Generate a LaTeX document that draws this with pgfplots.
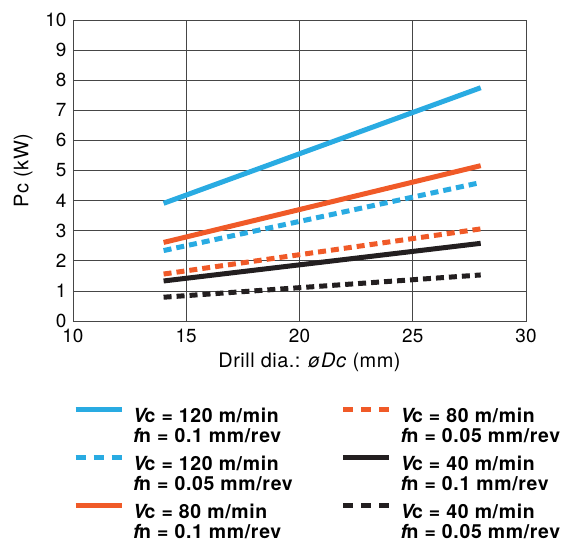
\documentclass[border=0pt]{standalone}
\usepackage{fontspec}
\setmainfont{TeX Gyre Heros}
\usepackage{pgfplots}
\pgfplotsset{compat=1.18}
\definecolor{vcyan}{RGB}{41,171,226}
\definecolor{vred}{RGB}{240,90,40}
\definecolor{vblack}{RGB}{35,31,32}
\definecolor{gridgray}{RGB}{70,70,70}

\newcommand{\ent}[2]{\begin{tabular}[t]{@{}l@{}}{\itshape V}\kern-1.5bp c = #1 m/min\\[-2pt]{\itshape f}\kern-0.5bp n = #2 mm/rev\end{tabular}}

\begin{document}
\fontsize{19}{22}\selectfont
\begin{tikzpicture}
\path[use as bounding box] (-73bp,-226bp) rectangle (500bp,321bp);
\begin{axis}[
  scale only axis, width=453bp, height=301bp,
  xmin=10, xmax=30, ymin=0, ymax=10,
  xtick={10,15,20,25,30}, ytick={0,1,...,10},
  grid=major,
  major grid style={gridgray, line width=0.8bp},
  axis line style={gridgray, line width=0.8bp},
  tick style={draw=none},
  /pgf/number format/assume math mode=true,
  tick label style={font=\fontsize{19}{22}\selectfont},
  xticklabel style={yshift=-2bp},
  xlabel={Drill dia.: \textit{øDc} (mm)},
  ylabel={Pc (kW)},
  label style={font=\fontsize{20}{24}\selectfont\addfontfeatures{LetterSpace=2.5}},
  xlabel style={xshift=10bp, yshift=3bp},
  legend columns=2,
  legend cell align=left,
  legend style={draw=none, fill=none, at={(0,-0.278)}, anchor=north west,
    inner sep=0pt, row sep={48bp,between origins},
    font=\fontsize{19.5}{22}\selectfont\bfseries\addfontfeatures{LetterSpace=3.5},
    /tikz/every odd column/.append style={column sep=7bp},
    /tikz/every even column/.append style={column sep=46bp}},
  legend image code/.code={\draw[#1] (0bp,0.36em) -- (46bp,0.36em);},
  every axis plot/.append style={line width=5bp},
]
\addplot[vcyan] coordinates {(14,3.91) (28,7.75)};
\addlegendentry{\ent{120}{0.1}}
\addplot[vred, dash pattern=on 8bp off 5bp,
  legend image post style={dash pattern=on 10bp off 8bp}] coordinates {(14,1.56) (28,3.06)};
\addlegendentry{\ent{80}{0.05}}
\addplot[vcyan, dash pattern=on 8bp off 5bp,
  legend image post style={dash pattern=on 10bp off 8bp}] coordinates {(14,2.34) (28,4.6)};
\addlegendentry{\ent{120}{0.05}}
\addplot[vblack] coordinates {(14,1.33) (28,2.58)};
\addlegendentry{\ent{40}{0.1}}
\addplot[vred] coordinates {(14,2.61) (28,5.16)};
\addlegendentry{\ent{80}{0.1}}
\addplot[vblack, dash pattern=on 8bp off 5bp,
  legend image post style={dash pattern=on 10bp off 8bp}] coordinates {(14,0.79) (28,1.53)};
\addlegendentry{\ent{40}{0.05}}
\end{axis}
\end{tikzpicture}
\end{document}
